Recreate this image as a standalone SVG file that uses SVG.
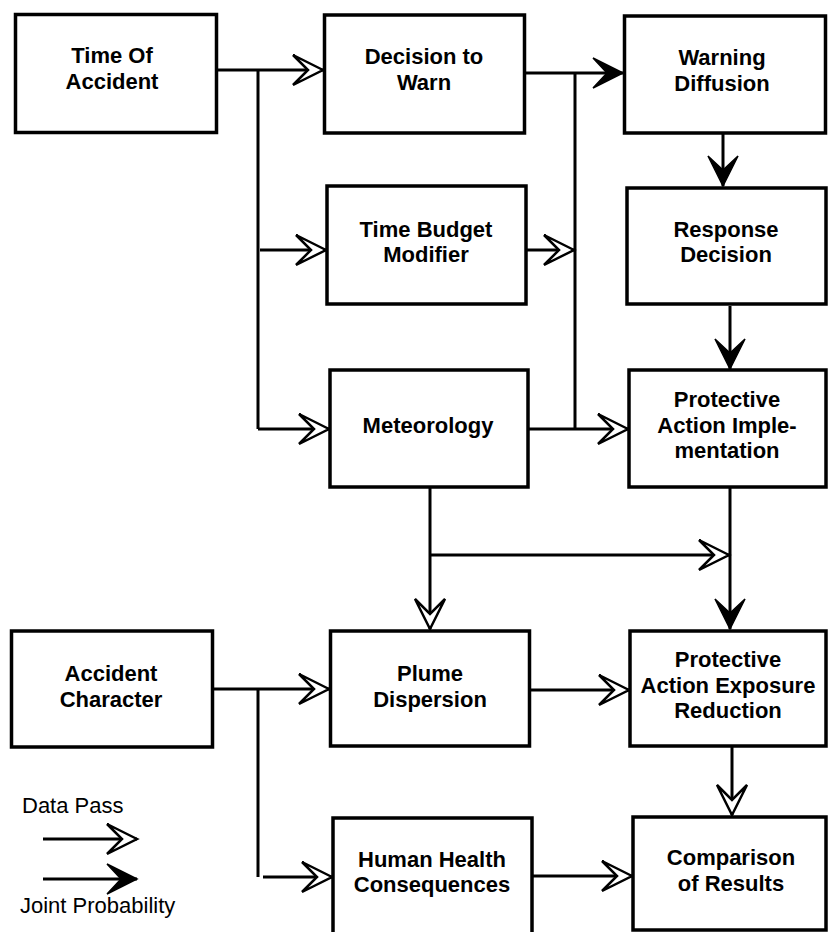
<svg xmlns="http://www.w3.org/2000/svg" width="828" height="932" viewBox="0 0 828 932">
<style>
.box{fill:#fff;stroke:#000;stroke-width:3.5}
.t{font-family:"Liberation Sans",Arial,Helvetica,sans-serif;font-weight:bold;font-size:22px;text-anchor:middle;fill:#000}
.lg{font-family:"Liberation Sans",Arial,Helvetica,sans-serif;font-size:22px;fill:#000}
.c{fill:none;stroke:#000;stroke-width:3}
.dp{marker-end:url(#open)}
.jp{marker-end:url(#solid)}
</style>
<defs>
<marker id="open" markerUnits="userSpaceOnUse" markerWidth="40" markerHeight="40" viewBox="-34 -20 40 40" refX="0" refY="0" orient="auto">
<path d="M0,0 L-30,-15 L-15,0 L-30,15 Z" fill="#fff" stroke="#000" stroke-width="2.5" stroke-linejoin="miter"/>
</marker>
<marker id="solid" markerUnits="userSpaceOnUse" markerWidth="40" markerHeight="40" viewBox="-34 -20 40 40" refX="0" refY="0" orient="auto">
<path d="M0,0 L-30,-15 L-16,0 L-30,15 Z" fill="#000" stroke="#000" stroke-width="1.5"/>
</marker>
</defs>
<rect width="828" height="932" fill="#fff"/>
<g id="connectors">
<path class="c dp" d="M217,70 L323,70"/>
<path class="c" d="M258,70 L258,429"/>
<path class="c dp" d="M258,429 L329,429"/>
<path class="c dp" d="M260,250 L326,250"/>
<path class="c jp" d="M525,73 L623,73"/>
<path class="c" d="M575,73 L575,429"/>
<path class="c dp" d="M527,250 L574,250"/>
<path class="c dp" d="M529,429 L628,429"/>
<path class="c jp" d="M723,134 L723,186"/>
<path class="c jp" d="M730,306 L730,369"/>
<path class="c jp" d="M730,488 L730,629"/>
<path class="c dp" d="M430,488 L430,629"/>
<path class="c dp" d="M430,555 L729,555"/>
<path class="c dp" d="M213,689 L329,689"/>
<path class="c" d="M258,689 L258,877"/>
<path class="c dp" d="M263,877 L332,877"/>
<path class="c dp" d="M530,690 L629,690"/>
<path class="c dp" d="M732,747 L732,815"/>
<path class="c dp" d="M533,876 L632,876"/>
</g>
<g id="n-time-of-accident"><rect class="box" x="15.5" y="14.5" width="201" height="118"/><text class="t" x="112" y="63">Time Of</text><text class="t" x="112" y="89">Accident</text></g>
<g id="n-decision-to-warn"><rect class="box" x="324.5" y="15" width="200" height="118"/><text class="t" x="424" y="64">Decision to</text><text class="t" x="424" y="90">Warn</text></g>
<g id="n-warning-diffusion"><rect class="box" x="624.5" y="16" width="201" height="117"/><text class="t" x="722" y="65">Warning</text><text class="t" x="722" y="91">Diffusion</text></g>
<g id="n-time-budget-modifier"><rect class="box" x="327" y="186" width="199" height="118"/><text class="t" x="426" y="237">Time Budget</text><text class="t" x="426" y="262">Modifier</text></g>
<g id="n-response-decision"><rect class="box" x="627" y="188" width="199" height="116"/><text class="t" x="726" y="237">Response</text><text class="t" x="726" y="262">Decision</text></g>
<g id="n-meteorology"><rect class="box" x="330" y="370" width="198" height="117"/><text class="t" x="428" y="433">Meteorology</text></g>
<g id="n-protective-action-implementation"><rect class="box" x="629" y="370" width="197" height="117"/><text class="t" x="727" y="407">Protective</text><text class="t" x="727" y="433">Action Imple-</text><text class="t" x="727" y="458">mentation</text></g>
<g id="n-accident-character"><rect class="box" x="11.5" y="631" width="201" height="116"/><text class="t" x="111" y="681">Accident</text><text class="t" x="111" y="707">Character</text></g>
<g id="n-plume-dispersion"><rect class="box" x="330.5" y="631" width="199" height="115"/><text class="t" x="430" y="681">Plume</text><text class="t" x="430" y="707">Dispersion</text></g>
<g id="n-protective-action-exposure-reduction"><rect class="box" x="630" y="631" width="196" height="115"/><text class="t" x="728" y="667">Protective</text><text class="t" x="728" y="693">Action Exposure</text><text class="t" x="728" y="718">Reduction</text></g>
<g id="n-human-health-consequences"><rect class="box" x="333" y="818" width="199" height="130"/><text class="t" x="432" y="867">Human Health</text><text class="t" x="432" y="892">Consequences</text></g>
<g id="n-comparison-of-results"><rect class="box" x="633" y="817" width="193" height="113"/><text class="t" x="731" y="865">Comparison</text><text class="t" x="731" y="891">of Results</text></g>
<g id="legend">
<text class="lg" x="22" y="813">Data Pass</text>
<path class="c dp" d="M43,839 L137,839"/>
<path class="c jp" d="M43,879 L137,879"/>
<text class="lg" x="20" y="913">Joint Probability</text>
</g>
</svg>
